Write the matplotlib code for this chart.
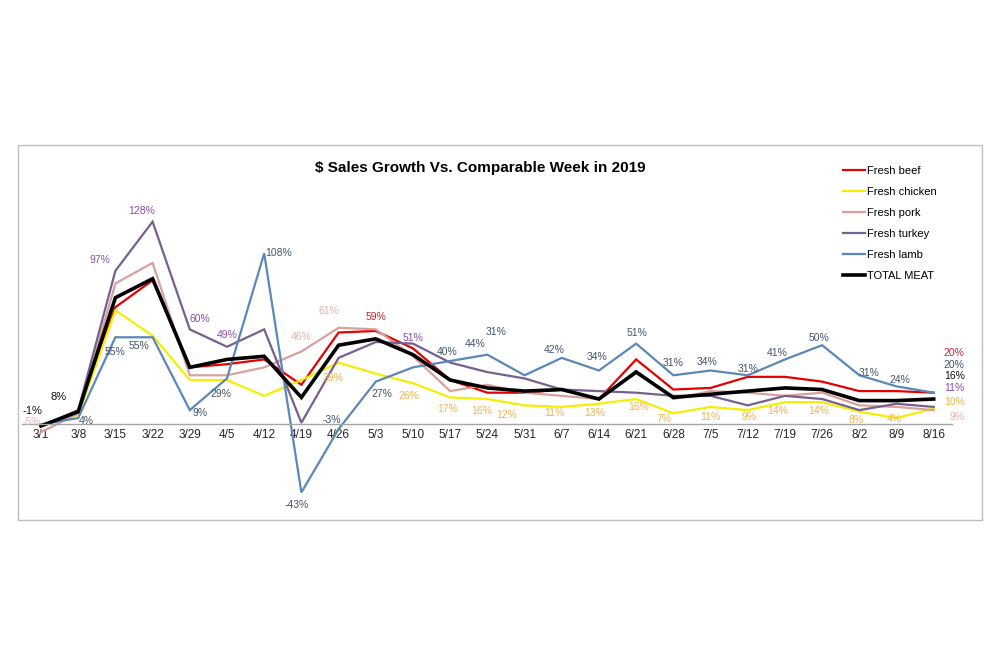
import matplotlib
matplotlib.use("Agg")
import matplotlib.pyplot as plt
from matplotlib.patches import Rectangle

plt.rcParams['font.family'] = ['Liberation Sans', 'DejaVu Sans']

weeks = ['3/1', '3/8', '3/15', '3/22', '3/29', '4/5', '4/12', '4/19', '4/26', '5/3',
         '5/10', '5/17', '5/24', '5/31', '6/7', '6/14', '6/21', '6/28', '7/5', '7/12',
         '7/19', '7/26', '8/2', '8/9', '8/16']

# % growth vs comparable week 2019
beef = [-1, 7, 74, 91, 36, 38, 41, 25, 58, 59, 48, 28, 20, 20, 22, 16, 41, 22, 23, 30, 30, 27, 21, 21, 20]
chicken = [-1, 6, 72, 56, 28, 28, 18, 28, 39, 32, 26, 17, 16, 12, 11, 13, 16, 7, 11, 9, 14, 14, 8, 4, 10]
pork = [-5, 7, 89, 102, 31, 31, 36, 46, 61, 60, 43, 21, 25, 20, 18, 16, 34, 16, 21, 20, 18, 20, 12, 11, 9]
turkey = [-1, 9, 97, 128, 60, 49, 60, 1, 42, 52, 51, 39, 33, 29, 22, 21, 20, 18, 18, 12, 18, 16, 9, 13, 11]
lamb = [0, 4, 55, 55, 9, 29, 108, -43, -3, 27, 36, 40, 44, 31, 42, 34, 51, 31, 34, 31, 41, 50, 31, 24, 20]
total = [-1, 8, 80, 92, 36, 41, 43, 17, 50, 54, 44, 28, 23, 21, 22, 16, 33, 17, 19, 21, 23, 22, 15, 15, 16]

series = [
    ("Fresh beef", beef, '#e60000', '#c0282d', 1.6),
    ("Fresh chicken", chicken, '#f5ee00', '#f0b450', 1.6),
    ("Fresh pork", pork, '#d9a19e', '#e3b3ae', 1.6),
    ("Fresh turkey", turkey, '#76608f', '#8a4fb0', 1.6),
    ("Fresh lamb", lamb, '#5b88b8', '#44546a', 1.6),
    ("TOTAL MEAT", total, '#000000', '#111111', 2.6),
]

# which points get a data label: (series name, week index, dx px, dy px)
labels = [
    ("TOTAL MEAT", 0, -9, 15), ("TOTAL MEAT", 1, -20, 15),
    ("Fresh pork", 0, -9, 10), ("Fresh pork", 7, 0, 15), ("Fresh pork", 8, -10, 17),
    ("Fresh turkey", 2, -15, 11), ("Fresh turkey", 3, -11, 11), ("Fresh turkey", 4, 10, 10),
    ("Fresh turkey", 5, 0, 12), ("Fresh turkey", 10, 0, 6),
    ("Fresh lamb", 1, 8, -3), ("Fresh lamb", 2, 0, -15), ("Fresh lamb", 3, -14, -9),
    ("Fresh lamb", 4, 10, -3), ("Fresh lamb", 5, -6, -16), ("Fresh lamb", 6, 14, 0),
    ("Fresh lamb", 7, -5, -13), ("Fresh lamb", 8, -7, 9), ("Fresh lamb", 9, 6, -12),
    ("Fresh lamb", 11, -3, 9), ("Fresh lamb", 12, -12, 11), ("Fresh lamb", 13, -28, 43),
    ("Fresh lamb", 14, -8, 8), ("Fresh lamb", 15, -2, 14), ("Fresh lamb", 16, 1, 11),
    ("Fresh lamb", 17, 0, 12), ("Fresh lamb", 18, -4, 9), ("Fresh lamb", 19, 0, 6),
    ("Fresh lamb", 20, -8, 6), ("Fresh lamb", 21, -3, 7), ("Fresh lamb", 22, 10, 2),
    ("Fresh lamb", 23, 3, 6),
    ("Fresh beef", 9, 0, 14),
    ("Fresh chicken", 8, -5, -15), ("Fresh chicken", 10, -4, -13), ("Fresh chicken", 11, -3, -12),
    ("Fresh chicken", 12, -6, -12), ("Fresh chicken", 13, -18, -10), ("Fresh chicken", 14, -7, -6),
    ("Fresh chicken", 15, -4, -9), ("Fresh chicken", 16, 2, -8), ("Fresh chicken", 17, -9, -6),
    ("Fresh chicken", 18, 0, -10), ("Fresh chicken", 19, 1, -7), ("Fresh chicken", 20, -7, -9),
    ("Fresh chicken", 21, -4, -9), ("Fresh chicken", 22, -3, -8), ("Fresh chicken", 23, -2, -1),
]
# end labels at 8/16, right aligned: series name -> dy px
end_labels = {"Fresh beef": 40, "Fresh lamb": 28, "TOTAL MEAT": 23,
              "Fresh turkey": 19, "Fresh chicken": 7, "Fresh pork": -7}

fig = plt.figure(figsize=(10.01, 6.67), dpi=100)
fig.patches.append(Rectangle((18 / 1001, 1 - 520 / 667), 964 / 1001, 375 / 667,
                             transform=fig.transFigure, fill=False,
                             edgecolor='#bfbfbf', linewidth=1))

ax = fig.add_axes([0.02238, 0.2451, 0.929, 0.4510])
x = list(range(len(weeks)))
info = {}
for name, vals, col, lcol, lw in series:
    ax.plot(x, vals, color=col, lw=lw, label=name, solid_joinstyle='miter')
    info[name] = (vals, lcol)

for name, i, dx, dy in labels:
    vals, lcol = info[name]
    fs = 8 if name == "TOTAL MEAT" else 7.5
    ax.annotate(f"{vals[i]}%", (x[i], vals[i]), xytext=(dx, dy),
                textcoords='offset pixels', ha='center', va='center',
                fontsize=fs, color=lcol)
for name, dy in end_labels.items():
    vals, lcol = info[name]
    ax.annotate(f"{vals[-1]}%", (x[-1], vals[-1]), xytext=(31, dy),
                textcoords='offset pixels', ha='right', va='center',
                fontsize=7.5, color=lcol)

ax.set_xlim(-0.5, len(weeks) - 0.5)
ax.set_ylim(-50, 140)
ax.set_xticks(x)
ax.set_xticklabels(weeks)
ax.tick_params(axis='x', length=0, pad=3, labelsize=8.5, labelcolor='#262626')
ax.set_yticks([])
for s in ['top', 'right', 'left']:
    ax.spines[s].set_visible(False)
ax.spines['bottom'].set_position(('data', 0))
ax.spines['bottom'].set_color('#a6a6a6')
ax.spines['bottom'].set_linewidth(1)
ax.patch.set_alpha(0)

fig.text(0.48, 1 - 168 / 667, "$ Sales Growth Vs. Comparable Week in 2019",
         ha='center', va='center', fontsize=11, fontweight='bold')

fig.legend(loc='upper left', bbox_to_anchor=(837 / 1001, 1 - 160 / 667),
           frameon=False, fontsize=8, handlelength=2.0, handletextpad=0.2,
           labelspacing=1.0, borderpad=0)

fig.savefig("out.png", dpi=100)
